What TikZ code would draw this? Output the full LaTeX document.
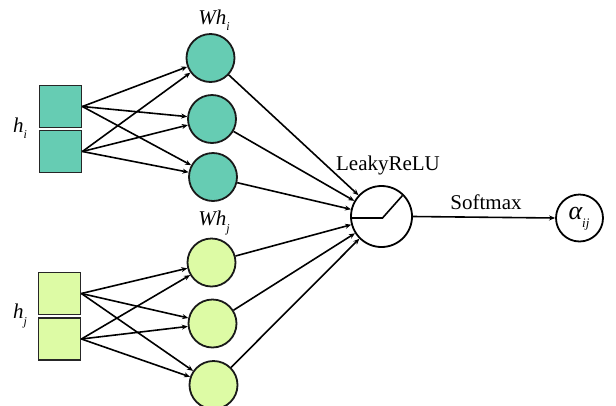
\documentclass[tikz,border=0pt]{standalone}
\usepackage{fontspec}
\setmainfont{Liberation Serif}
\usetikzlibrary{arrows.meta,calc}
\definecolor{teal1}{HTML}{66CCB3}
\definecolor{lgreen}{HTML}{DDFBA5}
\begin{document}
\begin{tikzpicture}[x=1pt,y=-1pt,
  sq/.style={draw=black!85,line width=1.8pt,minimum size=42pt,inner sep=0pt},
  neur/.style={circle,draw=black!90,line width=1.8pt,minimum size=48pt,inner sep=0pt},
  arr/.style={line width=1.6pt,-{Stealth[length=6pt,width=5pt]}},
  lbl/.style={font=\fontsize{21}{22}\selectfont\itshape,inner sep=0pt}]
\useasboundingbox (0,0) rectangle (616,405);
\begin{scope}
\clip (0,0) rectangle (616,405);
% hi squares
\node[sq,fill=teal1] (s1) at (60.5,106.5) {};
\node[sq,fill=teal1] (s2) at (60.5,151.5) {};
% hj squares
\node[sq,fill=lgreen] (s3) at (59.5,293.5) {};
\node[sq,fill=lgreen] (s4) at (59.5,339) {};
% neurons
\node[neur,fill=teal1] (c1) at (210.5,58) {};
\node[neur,fill=teal1] (c2) at (212,119) {};
\node[neur,fill=teal1] (c3) at (213,177) {};
\node[neur,fill=lgreen] (c4) at (211.5,262.5) {};
\node[neur,fill=lgreen] (c5) at (212.5,323.5) {};
\node[neur,fill=lgreen] (c6) at (213.5,385) {};
% LeakyReLU
\node[circle,draw,line width=1.8pt,minimum size=61pt,inner sep=0pt] (lr) at (381.5,216.5) {};
\draw[line width=1.6pt] ([shift={(-31,1.5)}]lr.center) -- ([shift={(1,1.5)}]lr.center) -- ([shift={(21,-21)}]lr.center);
% alpha
\node[circle,draw,line width=1.8pt,minimum size=47pt,inner sep=0pt] (al) at (579.5,218) {};
\node[inner sep=0pt] (allbl) at (579,219) {\fontsize{26}{28}\selectfont\itshape α\raisebox{-0.3em}{\fontsize{13}{14}\selectfont ij}};
% labels
\node[lbl] (whi) at (214,20) {Wh\raisebox{-0.3em}{\fontsize{12}{13}\selectfont i}};
\node[lbl] (whj) at (214,223) {Wh\raisebox{-0.3em}{\fontsize{12}{13}\selectfont j}};
\node[lbl] (hi) at (20,128) {h\raisebox{-0.3em}{\fontsize{12}{13}\selectfont i}};
\node[lbl] (hj) at (20,316) {h\raisebox{-0.3em}{\fontsize{12}{13}\selectfont j}};
\node[inner sep=0pt,font=\fontsize{21}{24}\selectfont] (lrlbl) at (388,165) {LeakyReLU};
\node[inner sep=0pt,font=\fontsize{21}{24}\selectfont] (smlbl) at (486,202) {Softmax};
% arrows squares -> neurons
\foreach \s in {s1,s2}{\foreach \c in {c1,c2,c3}{\draw[arr] (\s.east) -- (\c);}}
\foreach \s in {s3,s4}{\foreach \c in {c4,c5,c6}{\draw[arr] (\s.east) -- (\c);}}
% neurons -> LeakyReLU
\foreach \c in {c1,c2,c3,c4,c5,c6}{\draw[arr] (\c) -- (lr);}
% LeakyReLU -> alpha
\draw[arr] (lr.east) -- (al.west);
\end{scope}
\end{tikzpicture}
\end{document}
